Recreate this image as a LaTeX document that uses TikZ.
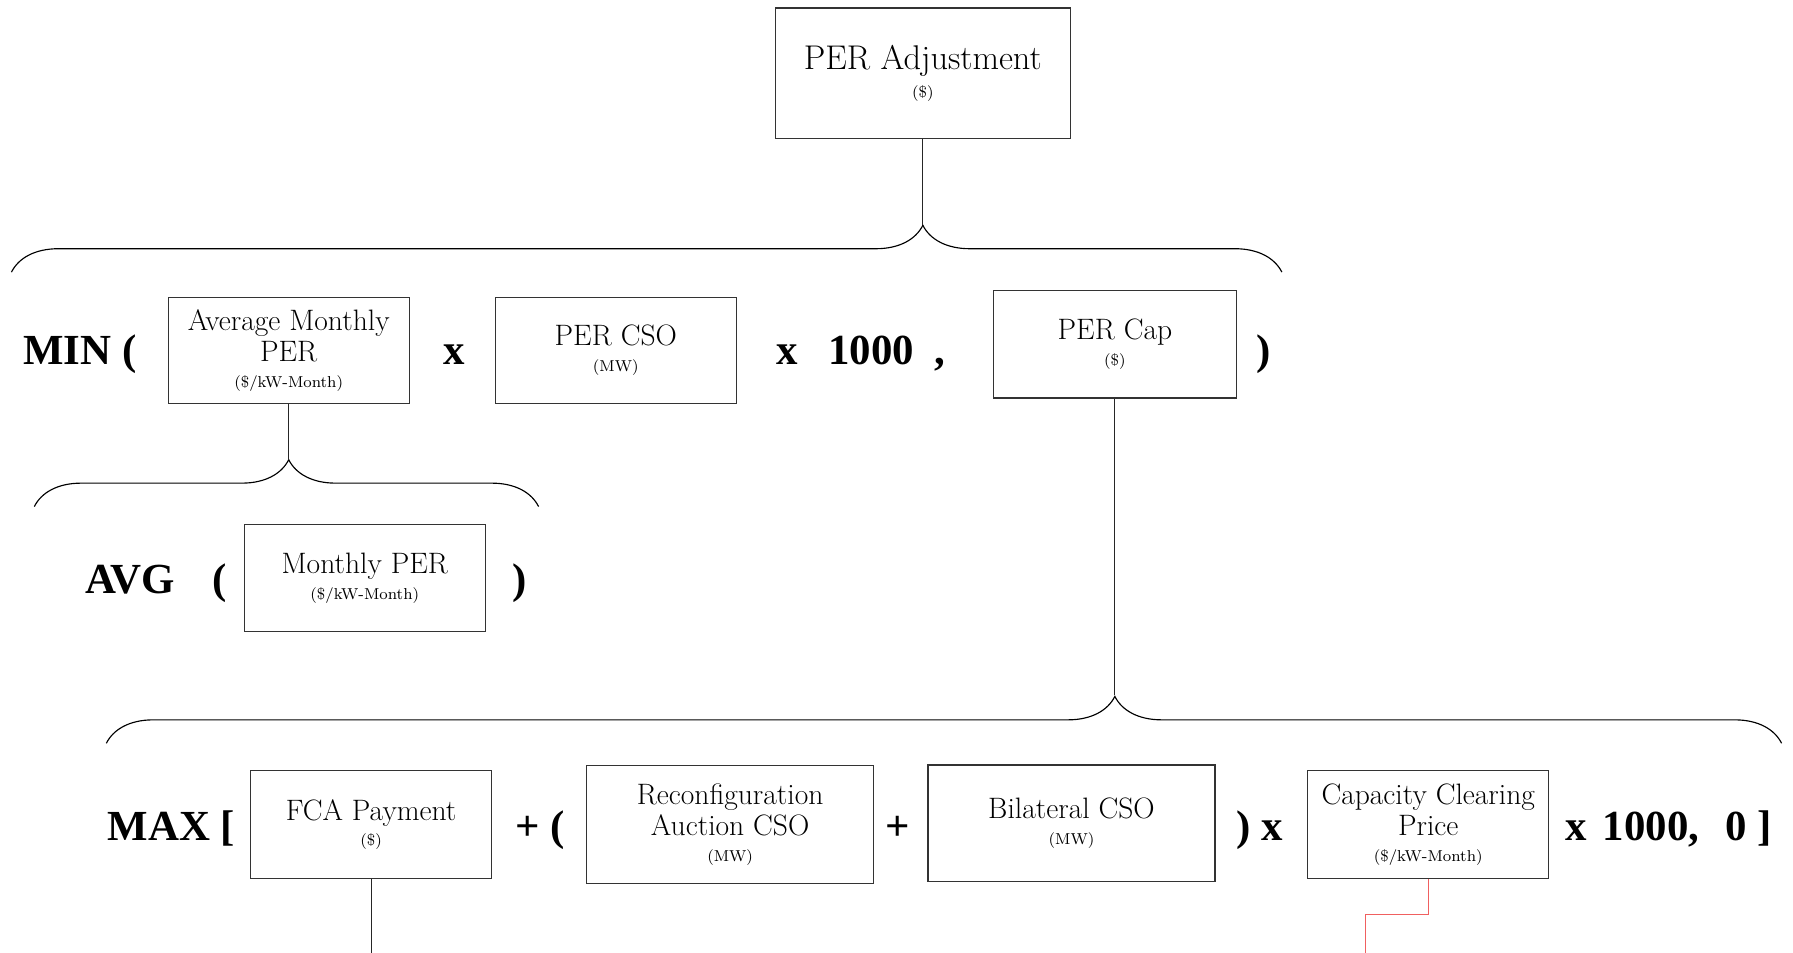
\documentclass[tikz,border=0pt]{standalone}
\usepackage{fontspec}
\usepackage{tikz}
\usetikzlibrary{decorations.pathreplacing}
\usetikzlibrary{calc}
\newfontfamily\opfont{Liberation Serif}
\definecolor{linkred}{RGB}{240,96,96}
\newcommand{\unitline}[1]{{\fontsize{8.3}{10}\selectfont #1}}
\tikzset{box/.style = {draw = black!80, line width = 0.6pt, inner sep = 0, align = center,
                       minimum width = 126.6pt, minimum height = 55.8pt,
                       font = \fontsize{15.5}{16.5}\selectfont}}
\tikzset{widebox/.style = {box, minimum width = 150.6pt, minimum height = 62pt}}
\tikzset{op/.style = {anchor = base, inner sep = 0, font = \fontsize{22.5}{24}\opfont\bfseries}}
\tikzset{curly/.style = {decorate, decoration = {brace, amplitude = 24.6pt, aspect = #1},
                         line width = 0.6pt}}
\tikzset{stem/.style = {line width = 0.5pt, black!85}}
\begin{document}
\begin{tikzpicture}[x = 0.6pt, y = -0.6pt]
      \useasboundingbox (0, 0) rectangle (1568, 833);
      \node [box, minimum width = 154.8pt, minimum height = 68.4pt, font = \fontsize{18}{20}\selectfont]
            (adj) at (807, 64) {PER Adjustment\\[-5pt]\unitline{(\$)}};
      \node [box] (avgper) at (252.5, 306.5) {Average Monthly\\PER\\[-3pt]\unitline{(\$/kW-Month)}};
      \node [box] (percso) at (538.5, 306.5) {PER CSO\\[-3pt]\unitline{(MW)}};
      \node [box, minimum width = 127.2pt, minimum height = 56.4pt] (percap) at (975, 301)
            {PER Cap\\[-3pt]\unitline{(\$)}};
      \node [box] (monper) at (319, 505.5) {Monthly PER\\[-3pt]\unitline{(\$/kW-Month)}};
      \node [box, minimum height = 56.4pt] (fca) at (324.5, 721) {FCA Payment\\[-3pt]\unitline{(\$)}};
      \node [widebox] (reconf) at (638.5, 721)
            {Reconfiguration\\Auction CSO\\[-3pt]\unitline{(MW)}};
      \node [widebox, minimum height = 61.2pt] (bilat) at (937, 720) {Bilateral CSO\\[-3pt]\unitline{(MW)}};
      \node [box, minimum height = 56.4pt] (ccp) at (1249, 721)
            {Capacity Clearing\\Price\\[-3pt]\unitline{(\$/kW-Month)}};
      \node [op] (min) at (70, 319) {MIN (};
      \node [op] (times1) at (397, 319) {x};
      \node [op] (times2) at (688, 319) {x};
      \node [op] (thou1) at (762, 319) {1000};
      \node [op] (comma1) at (822, 319) {,};
      \node [op] (close1) at (1105, 319) {)};
      \node [op] (avg) at (114, 519) {AVG};
      \node [op] (open2) at (192, 519) {(};
      \node [op] (close2) at (454, 519) {)};
      \node [op] (max) at (150, 735) {MAX [};
      \node [op] (plus1) at (472, 735) {+ (};
      \node [op] (plus2) at (785, 735) {+};
      \node [op] (close3) at (1102, 735) {) x};
      \node [op] (times3) at (1378, 735) {x};
      \node [op] (thou2) at (1444, 735) {1000,};
      \node [op] (zero) at (1518, 735) {0};
      \node [op] (close4) at (1543, 735) {]};
      \coordinate (tipmin) at (807, 197);
      \coordinate (tipavg) at (252.5, 402);
      \coordinate (tipmax) at (975, 608);
      \coordinate (fcaend) at (324.5, 833);
      \coordinate (ccpend) at (1194, 833);
      \draw [curly = 0.7174] (10, 238) -- (1121, 238);
      \draw [curly = 0.5045] (30, 443) -- (471, 443);
      \draw [curly = 0.602] (93, 650) -- (1558, 650);
      \draw [stem] (adj.south) -- (tipmin);
      \draw [stem] (avgper.south) -- (tipavg);
      \draw [stem] (percap.south) -- (tipmax);
      \draw [stem] (fca.south) -- (fcaend);
      \draw [stem, linkred, line width = 0.7pt] (ccp.south) -- ++(0, 31) -| (ccpend);
    \end{tikzpicture}
\end{document}
